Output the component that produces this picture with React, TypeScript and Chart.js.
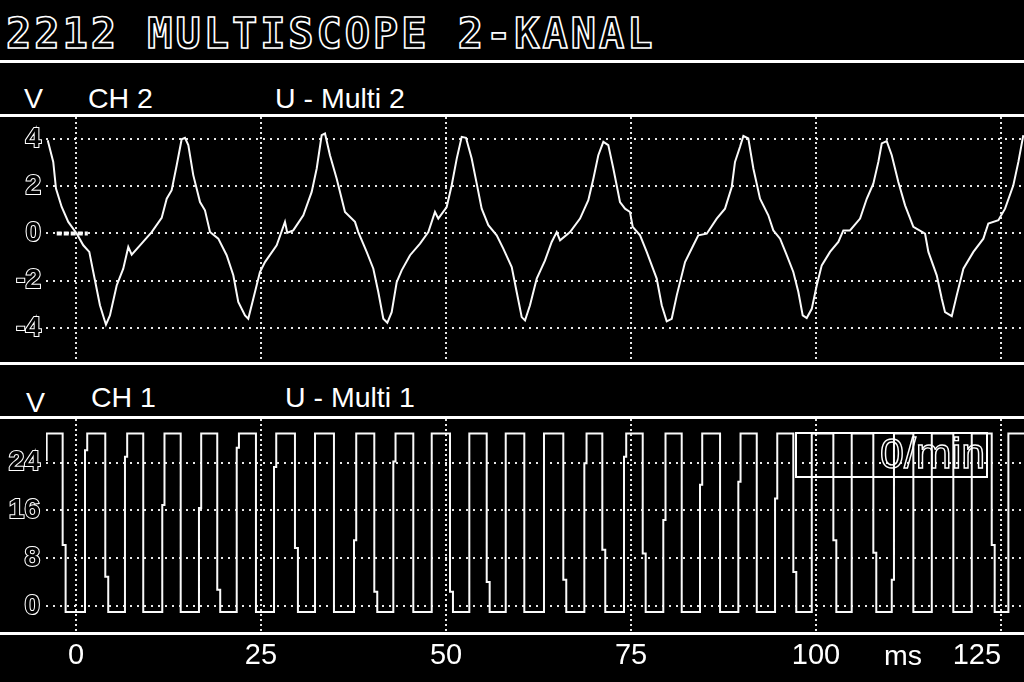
import React, { useEffect, useRef } from 'react';
import { Chart, registerables } from 'chart.js';

Chart.register(...registerables);

// ---- axis ticks ----
const xTicksMs = [0, 25, 50, 75, 100, 125];
const xTickLabels = ['0', '25', '50', '75', '100', '125'];
const ch2Ticks = [-4, -2, 0, 2, 4];
const ch1Ticks = [0, 8, 16, 24];

// ---- CH 2 (U - Multi 2), time in ms, volts ----
const ch2TimeMs = [
  -3.82, -3.07, -2.70, -1.93, -1.04, 0.09, 0.99, 1.80, 2.34, 3.24,
  4.05, 4.59, 5.50, 6.39, 7.07, 7.53, 8.65, 10.23, 11.58, 12.26,
  12.93, 13.61, 14.28, 14.73, 15.18, 15.85, 16.76, 17.43, 18.11, 19.23,
  20.36, 21.26, 21.93, 22.84, 23.28, 23.96, 24.86, 25.54, 27.12, 28.24,
  28.55, 29.36, 30.72, 31.85, 32.53, 33.20, 33.65, 34.32, 35.23, 36.35,
  37.70, 38.15, 39.28, 40.18, 40.85, 41.53, 42.07, 42.66, 43.34, 44.01,
  45.14, 46.49, 47.61, 48.51, 48.96, 50.09, 50.77, 51.45, 52.12, 52.70,
  53.47, 54.15, 54.82, 55.72, 56.85, 57.74, 58.88, 59.55, 60.23, 60.68,
  61.35, 62.26, 63.38, 64.28, 64.96, 65.41, 66.76, 68.11, 69.23, 69.91,
  70.58, 71.26, 71.93, 72.61, 73.51, 74.19, 74.86, 75.23, 76.22, 77.12,
  78.47, 79.15, 79.82, 80.50, 81.18, 82.30, 83.42, 84.09, 85.23, 86.58,
  87.70, 88.61, 89.05, 89.73, 90.18, 90.85, 91.53, 92.43, 93.55, 94.23,
  95.14, 96.04, 96.93, 97.61, 98.20, 98.74, 99.42, 100.09, 100.77, 101.89,
  103.01, 103.69, 104.59, 105.95, 106.85, 107.74, 108.42, 108.88, 109.55, 110.23,
  111.12, 112.03, 113.15, 114.73, 115.18, 116.31, 116.99, 117.43, 118.34, 119.01,
  119.91, 121.26, 122.61, 123.28, 124.64, 125.54, 126.66, 127.34, 128.01,
];
const ch2Volts = [
  3.95, 3.03, 1.90, 1.12, 0.49, 0.00, -0.50, -0.78, -1.63, -3.04,
  -3.86, -3.47, -2.20, -1.49, -0.57, -0.90, -0.50, 0.06, 0.66, 1.47,
  1.83, 2.89, 3.99, 4.05, 3.74, 2.47, 1.33, 0.98, 0.06, -0.22,
  -0.92, -1.77, -2.90, -3.47, -3.61, -2.76, -1.63, -1.21, -0.50, 0.49,
  0.03, 0.13, 0.77, 1.76, 2.75, 4.16, 4.23, 3.31, 2.32, 0.91,
  0.49, 0.06, -0.78, -1.49, -2.48, -3.61, -3.78, -3.33, -2.06, -1.56,
  -0.92, -0.43, 0.06, 0.91, 0.63, 1.12, 2.04, 3.17, 4.09, 4.05,
  3.17, 2.11, 1.05, 0.35, -0.08, -0.64, -1.42, -2.48, -3.54, -3.68,
  -3.04, -1.91, -1.14, -0.36, 0.06, -0.29, 0.06, 0.63, 1.41, 2.32,
  3.31, 3.88, 3.74, 2.75, 1.33, 1.05, 0.91, 0.28, -0.08, -0.78,
  -1.91, -3.04, -3.72, -3.61, -2.62, -1.21, -0.50, -0.08, -0.01, 0.63,
  1.05, 1.97, 3.03, 3.67, 4.13, 4.02, 2.75, 1.47, 0.77, 0.13,
  -0.22, -0.92, -1.63, -2.48, -3.47, -3.58, -3.19, -2.20, -1.35, -0.78,
  -0.36, 0.13, 0.13, 0.63, 1.47, 2.11, 3.03, 3.81, 3.91, 3.31,
  2.18, 1.19, 0.28, -0.01, -0.78, -1.77, -2.76, -3.33, -3.50, -2.62,
  -1.49, -0.78, -0.22, 0.42, 0.56, 1.05, 2.04, 3.03, 4.16,
];
// ground marker of channel 2 (ms range at 0 V)
const ch2ZeroMarkMs = [-2.6, 1.6];

// ---- CH 1 (U - Multi 1), square wave edges in ms, levels in volts ----
const ch1RiseMs = [
  -3.96, 1.22, 6.62, 11.66, 16.62, 21.72, 26.76, 32.30, 37.57, 42.88,
  48.07, 53.15, 58.07, 63.24, 68.69, 74.05, 79.36, 84.32, 89.50, 94.46,
  99.42, 104.82, 110.23, 115.64, 121.04, 125.99,
];
const ch1RiseStepV = [
  24.3, 26.1, 25.0, 16.9, 16.4, 26.5, 23.3, null, 11.0, 24.2,
  null, null, null, null, 23.9, 25.0, 14.4, 20.3, 20.8, 18.0,
  null, null, 4.4, null, null, null,
];
const ch1FallMs = [
  -1.80, 3.96, 9.09, 14.15, 19.09, 24.32, 29.59, 34.86, 40.31, 45.58,
  50.54, 55.50, 60.58, 65.85, 71.12, 76.58, 81.85, 87.03, 91.99, 96.93,
  102.34, 107.74, 113.15, 118.55, 123.74,
];
const ch1FallStepV = [
  10.2, 4.9, null, null, 2.7, null, 9.7, null, 2.4, null,
  2.4, 4.0, null, 4.4, 9.4, 8.8, null, null, null, 5.7,
  11.0, 8.9, null, null, 10.2,
];
const ch1HighV = 28.9;
const ch1LowV = -1.0;

const X_MIN = -4.05;
const X_MAX = 128.1;
const GRID = 'rgba(255,255,255,0.9)';

function buildCh1() {
  const pts: { x: number; y: number }[] = [];
  const rDt = 0.3;
  const fDt = 0.4;
  for (let i = 0; i < ch1RiseMs.length; i++) {
    const r = ch1RiseMs[i];
    const rs = ch1RiseStepV[i];
    if (i === 0) {
      pts.push({ x: r, y: rs as number });
      pts.push({ x: r, y: ch1HighV });
    } else {
      pts.push({ x: r, y: ch1LowV });
      if (rs != null) {
        pts.push({ x: r, y: rs });
        pts.push({ x: r + rDt, y: rs });
        pts.push({ x: r + rDt, y: ch1HighV });
      } else {
        pts.push({ x: r, y: ch1HighV });
      }
    }
    if (i < ch1FallMs.length) {
      const f = ch1FallMs[i];
      const fs = ch1FallStepV[i];
      pts.push({ x: f, y: ch1HighV });
      if (fs != null) {
        pts.push({ x: f, y: fs });
        pts.push({ x: f + fDt, y: fs });
        pts.push({ x: f + fDt, y: ch1LowV });
      } else {
        pts.push({ x: f, y: ch1LowV });
      }
    }
  }
  pts.push({ x: X_MAX, y: ch1HighV });
  return pts;
}

const yTickFont = { family: 'Liberation Sans', size: 28, weight: 'bold' as const };

export default function App() {
  const topRef = useRef<HTMLCanvasElement>(null);
  const botRef = useRef<HTMLCanvasElement>(null);

  useEffect(() => {
    const common: any = {
      responsive: false,
      animation: false,
      devicePixelRatio: 1,
      events: [],
      layout: { padding: 0 },
      plugins: { legend: { display: false }, tooltip: { enabled: false }, title: { display: false } },
    };

    const top = new Chart(topRef.current as HTMLCanvasElement, {
      type: 'line',
      data: {
        datasets: [
          {
            data: ch2TimeMs.map((t, i) => ({ x: t, y: ch2Volts[i] })),
            borderColor: '#fafafa',
            borderWidth: 2,
            pointRadius: 0,
            tension: 0,
          },
          {
            data: ch2ZeroMarkMs.map((t) => ({ x: t, y: 0 })),
            borderColor: '#fafafa',
            borderWidth: 4,
            borderDash: [5, 2],
            pointRadius: 0,
          },
        ],
      },
      options: {
        ...common,
        scales: {
          x: {
            type: 'linear',
            min: X_MIN,
            max: X_MAX,
            afterBuildTicks: (s: any) => {
              s.ticks = xTicksMs.map((v) => ({ value: v }));
            },
            afterFit: (s: any) => {
              s.height = 0;
              s.paddingLeft = 0;
              s.paddingRight = 0;
            },
            ticks: { display: false },
            grid: { color: GRID, lineWidth: 2, drawTicks: false },
            border: { display: false, dash: [2, 3] },
          },
          y: {
            type: 'linear',
            min: -5.44,
            max: 4.93,
            afterBuildTicks: (s: any) => {
              s.ticks = ch2Ticks.map((v) => ({ value: v }));
            },
            afterFit: (s: any) => {
              s.width = 46;
              s.paddingTop = 0;
              s.paddingBottom = 0;
            },
            ticks: {
              color: '#000',
              textStrokeColor: '#fff',
              textStrokeWidth: 2,
              font: yTickFont,
              padding: 5,
            },
            grid: { color: GRID, lineWidth: 2, drawTicks: false },
            border: { display: false, dash: [2, 5] },
          },
        },
      } as any,
    });

    const bot = new Chart(botRef.current as HTMLCanvasElement, {
      type: 'line',
      data: {
        datasets: [
          {
            data: buildCh1(),
            borderColor: '#fafafa',
            borderWidth: 2,
            pointRadius: 0,
            tension: 0,
          },
        ],
      },
      options: {
        ...common,
        scales: {
          x: {
            type: 'linear',
            min: X_MIN,
            max: X_MAX,
            afterBuildTicks: (s: any) => {
              s.ticks = [{ value: X_MIN }, ...xTicksMs.map((v) => ({ value: v }))];
            },
            afterFit: (s: any) => {
              s.height = 50;
              s.paddingLeft = 0;
              s.paddingRight = 0;
            },
            ticks: {
              display: true,
              autoSkip: false,
              maxRotation: 0,
              minRotation: 0,
              align: 'inner',
              padding: 7,
              color: '#fff',
              font: { family: 'Liberation Sans', size: 29 },
              callback: (v: any) => {
                const i = xTicksMs.indexOf(Number(v));
                return i >= 0 ? xTickLabels[i] : '';
              },
            },
            grid: {
              color: (ctx: any) => (ctx.tick && ctx.tick.value < 0 ? 'rgba(0,0,0,0)' : GRID),
              lineWidth: 2,
              drawTicks: false,
            },
            border: { display: false, dash: [2, 3] },
          },
          y: {
            type: 'linear',
            min: -4.36,
            max: 31.32,
            afterBuildTicks: (s: any) => {
              s.ticks = ch1Ticks.map((v) => ({ value: v }));
            },
            afterFit: (s: any) => {
              s.width = 46;
              s.paddingTop = 0;
              s.paddingBottom = 0;
            },
            ticks: {
              color: '#000',
              textStrokeColor: '#fff',
              textStrokeWidth: 2,
              font: yTickFont,
              padding: 6,
            },
            grid: { color: GRID, lineWidth: 2, drawTicks: false },
            border: { display: false, dash: [2, 5] },
          },
        },
      } as any,
    });

    return () => {
      top.destroy();
      bot.destroy();
    };
  }, []);

  const abs = (s: React.CSSProperties): React.CSSProperties => ({ position: 'absolute', ...s });
  const hline = (top: number) => (
    <div style={abs({ left: 0, top, width: 1024, height: 3, background: '#fff', zIndex: 2 })} />
  );
  const label: React.CSSProperties = {
    position: 'absolute',
    fontFamily: '"Liberation Sans", Arial, sans-serif',
    fontSize: 28.5,
    lineHeight: '28.5px',
    color: '#fff',
    whiteSpace: 'nowrap',
    zIndex: 3,
  };
  const outlined: React.CSSProperties = {
    position: 'absolute',
    fontFamily: '"DejaVu Sans Mono", monospace',
    fontWeight: 'bold',
    fontSize: 42,
    lineHeight: '42px',
    color: 'transparent',
    WebkitTextStroke: '1.6px #fff',
    whiteSpace: 'pre',
    zIndex: 3,
  };

  return (
    <div
      style={{
        position: 'fixed',
        left: 0,
        top: 0,
        width: 1024,
        height: 682,
        background: '#000',
        overflow: 'hidden',
      }}
    >
      <div style={{ ...outlined, left: 6, top: 13, letterSpacing: 2.95 }}>2212 MULTISCOPE 2-KANAL</div>
      {hline(60)}

      <div style={{ ...label, left: 24, top: 84 }}>V</div>
      <div style={{ ...label, left: 88, top: 84 }}>CH 2</div>
      <div style={{ ...label, left: 275, top: 84 }}>U - Multi 2</div>
      {hline(114)}

      <canvas
        ref={topRef}
        width={1024}
        height={245}
        style={{ position: 'absolute', left: 0, top: 117, width: 1024, height: 245, display: 'block', zIndex: 1 }}
      />
      {hline(362)}

      <div style={{ ...label, left: 26, top: 388 }}>V</div>
      <div style={{ ...label, left: 91, top: 383 }}>CH 1</div>
      <div style={{ ...label, left: 285, top: 383 }}>U - Multi 1</div>
      {hline(416)}

      <canvas
        ref={botRef}
        width={1024}
        height={263}
        style={{ position: 'absolute', left: 0, top: 419, width: 1024, height: 263, display: 'block', zIndex: 1 }}
      />
      <div
        style={abs({
          left: 795,
          top: 432,
          width: 193,
          height: 46,
          boxSizing: 'border-box',
          border: '2px solid #fff',
          zIndex: 3,
        })}
      />
      <div
        style={{
          ...outlined,
          fontFamily: '"Liberation Sans", sans-serif',
          fontWeight: 'normal',
          fontSize: 43,
          lineHeight: '43px',
          left: 880,
          top: 432,
          WebkitTextStroke: '1.4px #fff',
        }}
      >
        0/min
      </div>
      {hline(632)}

      <div style={{ ...label, left: 884, top: 641 }}>ms</div>
    </div>
  );
}
